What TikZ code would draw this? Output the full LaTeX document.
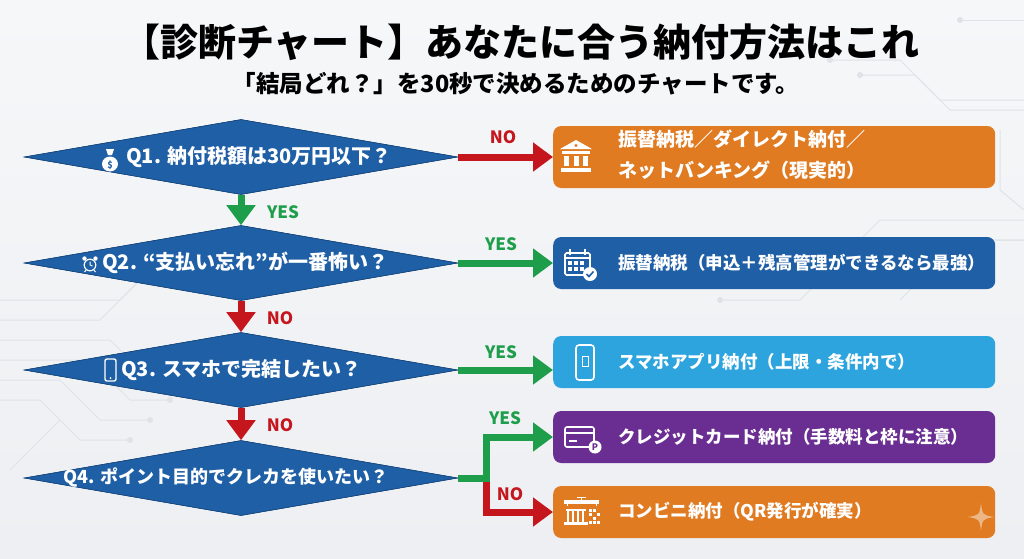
\documentclass[tikz,border=0pt]{standalone}
\usepackage{fontspec}
\setmainfont{Noto Sans CJK JP}
\usetikzlibrary{shapes.geometric,arrows.meta}
\definecolor{qblue}{HTML}{1F5FA5}
\definecolor{borange}{HTML}{E07B22}
\definecolor{bblue}{HTML}{1E5FA6}
\definecolor{blight}{HTML}{2DA4DD}
\definecolor{bpurple}{HTML}{6A2D91}
\definecolor{nored}{HTML}{C5161D}
\definecolor{yesgreen}{HTML}{1E9E4A}
\definecolor{circ}{HTML}{DFE2E7}
\definecolor{bgtop}{HTML}{F6F7F9}
\definecolor{bgbot}{HTML}{EDEFF2}
\tikzset{
  qd/.style={diamond, fill=qblue, draw=qblue!75!black, line width=0.6pt, minimum width=433pt, minimum height=75pt, inner sep=0pt},
  qt/.style={text=white, font=\bfseries\fontsize{20}{23}\selectfont, inner sep=0pt, anchor=west},
  boxst/.style={rounded corners=8pt, minimum width=442pt, inner sep=0pt, anchor=west},
  bt/.style={text=white, font=\bfseries\fontsize{17.5}{27}\selectfont, inner sep=0pt, anchor=west, align=left},
  lbl/.style={font=\bfseries\fontsize{17}{20}\selectfont, inner sep=0pt},
  arrno/.style={draw=nored, line width=7pt, -{Triangle[width=28pt,length=20pt]}},
  arryes/.style={draw=yesgreen, line width=7pt, -{Triangle[width=28pt,length=20pt]}},
  icon/.style={white, line width=1.6pt},
  circl/.style={draw=circ, line width=1pt},
}
\begin{document}
\begin{tikzpicture}[x=1pt,y=-1pt]
\useasboundingbox (0,0) rectangle (1024,558);
\shade[top color=bgtop, bottom color=bgbot] (0,0) rectangle (1024,558);
% circuit decorations
\begin{scope}[circl]
  \draw (0,300) -- (120,300) -- (160,260) -- (230,260);
  \draw (0,320) -- (100,320) -- (140,280);
  \draw (0,340) -- (110,340) -- (150,380) -- (200,380);
  \draw (0,360) -- (90,360) -- (130,400) -- (170,400);
  \draw (0,380) -- (60,380) -- (100,420) -- (150,420);
  \draw (0,400) -- (40,400) -- (80,440) -- (130,440);
  \draw (10,470) -- (60,420);
  \draw (830,60) -- (900,60) -- (940,100) -- (1024,100);
  \draw (860,75) -- (915,75) -- (950,110) -- (1024,110);
  \draw (960,20) -- (1024,20);
  \draw (760,260) -- (840,260) -- (880,220) -- (1024,220);
  \draw (790,280) -- (870,280) -- (910,240) -- (1024,240);
  \draw (720,300) -- (800,300) -- (850,250);
  \draw (900,300) -- (960,240) -- (1024,240);
  \draw (1000,130) -- (1000,190) -- (1024,210);
\end{scope}
\foreach \p in {(230,260),(140,280),(200,380),(170,400),(150,420),(130,440),(830,60),(860,75),(760,260),(790,280),(720,300),(960,20),(850,250)}
  \fill[circ] \p circle (3);
% title
\node[font=\bfseries\fontsize{38}{42}\selectfont] (title) at (521,42) {【診断チャート】あなたに合う納付方法はこれ};
\node[font=\bfseries\fontsize{23.5}{26}\selectfont] (sub) at (516,84) {「結局どれ？」を30秒で決めるためのチャートです。};
% diamonds
\node[qd] (q1) at (241,157) {};
\node[qd] (q2) at (241,263) {};
\node[qd] (q3) at (241,370) {};
\node[qd] (q4) at (241,478) {};
% boxes
\node[boxst, fill=borange, minimum height=62pt] (b1) at (553,157) {};
\node[boxst, fill=bblue, minimum height=52pt] (b2) at (553,263) {};
\node[boxst, fill=blight, minimum height=52pt] (b3) at (553,362) {};
\node[boxst, fill=bpurple, minimum height=52pt] (b4) at (553,437) {};
\node[boxst, fill=borange, minimum height=52pt] (b5) at (553,512) {};
% arrows
\draw[arryes] (q1.south) -- (q2.north);
\draw[arrno] (q2.south) -- (q3.north);
\draw[arrno] (q3.south) -- (q4.north);
\draw[arrno] (q1.east) -- (b1.west);
\draw[arryes] (q2.east) -- (b2.west);
\draw[arryes] (q3.east) -- (q3.east -| b3.west);
\coordinate (br) at (486,478);
\draw[arrno] (br) |- (b5.west);
\draw[arryes] (q4.east) -- (br) |- (b4.west);
% redraw diamonds on top of arrow ends
\node[qd] at (q1) {};
\node[qd] at (q2) {};
\node[qd] at (q3) {};
\node[qd] at (q4) {};
% arrow labels
\node[lbl, text=yesgreen] (l1) at (283,212) {YES};
\node[lbl, text=nored] (l2) at (280,318) {NO};
\node[lbl, text=nored] (l3) at (280,425) {NO};
\node[lbl, text=nored] (l4) at (503,137) {NO};
\node[lbl, text=yesgreen] (l5) at (501,244) {YES};
\node[lbl, text=yesgreen] (l6) at (501,352) {YES};
\node[lbl, text=yesgreen] (l7) at (505,418) {YES};
\node[lbl, text=nored] (l8) at (510,494) {NO};
% question texts
\node[qt] (q1t) at (126,157) {Q1. 納付税額は30万円以下？};
\node[qt] (q2t) at (102,263) {Q2. “支払い忘れ”が一番怖い？};
\node[qt] (q3t) at (121,370) {Q3. スマホで完結したい？};
\node[qt, font=\bfseries\fontsize{18}{22}\selectfont] (q4t) at (63,478) {Q4. ポイント目的でクレカを使いたい？};
% diamond icons
\fill[white] (110,164) ellipse (8 and 7.5);
\fill[white] (106,149) -- (114,149) -- (112,155) -- (108,155) -- cycle;
\node[font=\bfseries\fontsize{9}{9}\selectfont, text=qblue, inner sep=0pt] (ms) at (110,165) {\$};
\draw[icon, line width=1.2pt] (90,265) circle (5.8);
\draw[icon, line width=1pt] (90,265) -- (90,261.5) (90,265) -- (92.5,266);
\fill[white] (84.5,258.5) circle (2.2);
\fill[white] (95.5,258.5) circle (2.2);
\draw[icon, line width=1pt] (86,270) -- (84.5,272) (94,270) -- (95.5,272);
\draw[icon, line width=1.4pt, rounded corners=2pt] (105,359) rectangle (116,381);
\fill[white] (110.5,378) circle (1);
% box texts
\node[bt, font=\bfseries\fontsize{19}{31}\selectfont] (b1t) at (618,155) {振替納税／ダイレクト納付／\\ネットバンキング（現実的）};
\node[bt] (b2t) at (618,263) {振替納税（申込＋残高管理ができるなら最強）};
\node[bt] (b3t) at (618,362) {スマホアプリ納付（上限・条件内で）};
\node[bt] (b4t) at (618,437) {クレジットカード納付（手数料と枠に注意）};
\node[bt] (b5t) at (618,512) {コンビニ納付（QR発行が確実）};
% bank icon
\fill[white] (560,149) -- (576,140) -- (592,149) -- cycle;
\fill[borange] (576,145.5) circle (1.6);
\fill[white] (562,151) rectangle (590,154);
\fill[white] (564,156) rectangle (569,166);
\fill[white] (573.5,156) rectangle (578.5,166);
\fill[white] (583,156) rectangle (588,166);
\fill[white] (561,168) rectangle (591,172);
% calendar icon
\draw[icon, rounded corners=1.5pt] (565,253) rectangle (590,275);
\draw[icon] (565,258) -- (590,258);
\draw[icon] (570,249) -- (570,255) (585,249) -- (585,255);
\foreach \cx in {570,576,582} \foreach \cy in {263,269} \fill[white] (\cx-1.8,\cy-1.8) rectangle (\cx+1.8,\cy+1.8);
\fill[white] (590,274) circle (7);
\draw[bblue, line width=1.6pt] (586.5,274) -- (589,276.5) -- (593.5,271.5);
% phone icon
\draw[icon, rounded corners=3pt] (576,345) rectangle (594,380);
\draw[white, line width=1pt] (582,356) rectangle (588,366);
% card icon
\draw[icon, rounded corners=2pt] (565,427) rectangle (594,447);
\draw[icon] (565,433) -- (594,433);
\draw[icon] (569,441) -- (577,441);
\fill[white] (595,447) circle (6.5);
\node[font=\bfseries\fontsize{9}{9}\selectfont, text=bpurple, inner sep=0pt] (pp) at (595,447) {P};
% store icon
\fill[white] (564,500) rectangle (599,504);
\draw[white, line width=1pt] (567,504) -- (567,506) (596,504) -- (596,506);
\draw[white, line width=1pt] (577,497) -- (586,497) (581.5,497) -- (581.5,500);
\fill[white] (564,522) rectangle (588,525);
\draw[white, line width=1.2pt] (566,510) -- (586,510);
\draw[white, line width=1.4pt] (568,511) -- (568,522) (573,511) -- (573,522) (578,511) -- (578,522) (583,511) -- (583,522);
\foreach \qx/\qy in {589/509,593/509,589/513,593/517,597/513,589/521,597/521,593/521}
  \fill[white] (\qx,\qy) rectangle ++(2.5,2.5);
% sparkle
\fill[white, opacity=0.45] (981,503) .. controls (982.5,515) .. (994,517) .. controls (982.5,519) .. (981,531) .. controls (979.5,519) .. (968,517) .. controls (979.5,515) .. (981,503);
\end{tikzpicture}
\end{document}
